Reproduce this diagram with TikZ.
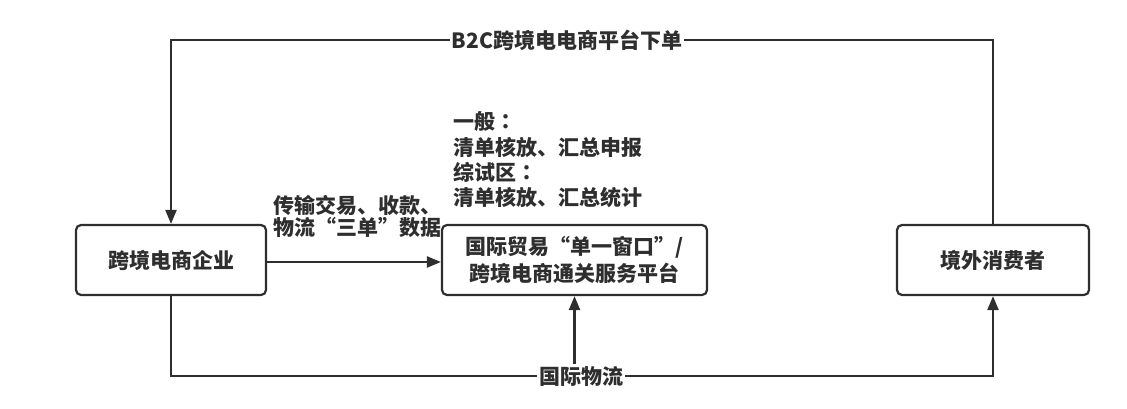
\documentclass[tikz,border=0pt]{standalone}
\usepackage{fontspec}
\newfontfamily\cjk{Noto Sans CJK SC}
\newfontfamily\cjktc{Noto Sans CJK TC}
\usetikzlibrary{arrows.meta}
\definecolor{ink}{HTML}{2E2E2E}
\newcommand{\fwcolon}{{\cjktc\bfseries ：}}
\begin{document}
\begin{tikzpicture}[x=1pt,y=-1pt,
  font=\cjk\bfseries\fontsize{21}{27}\selectfont,
  box/.style={draw=ink, line width=2.2pt, rounded corners=5pt, minimum height=70pt, text=ink, align=center, inner sep=0pt},
  lbl/.style={fill=white, text=ink, inner sep=2pt},
  note/.style={text=ink, align=left, inner sep=0pt, anchor=west},
  conn/.style={draw=ink, line width=2.2pt},
  arr/.style={conn, -{Triangle[length=14pt,width=11pt]}}]
\useasboundingbox (0,0) rectangle (1127,409);
\node[box, minimum width=190pt] (ent) at (171,260) {跨境电商企业};
\node[box, minimum width=265pt] (plat) at (574.5,260) {国际贸易“单一窗口”/\\跨境电商通关服务平台};
\node[box, minimum width=192pt] (cons) at (993,260) {境外消费者};
% top connector
\coordinate (top) at (567,40);
\draw[arr] (cons.north) |- (top) -| (ent.north);
\node[lbl] (b2c) at (top) {B2C跨境电电商平台下单};
% bottom connector
\coordinate (bot) at (581,376);
\draw[arr] (ent.south) |- (bot) -| (cons.south);
\node[lbl] (log) at (bot) {国际物流};
\draw[arr] (log.north -| plat.south) -- (plat.south);
% data arrow
\draw[arr] ([yshift=-2pt]ent.east) -- ([yshift=-2pt]plat.west);
\node[note, font=\cjk\bfseries\fontsize{21}{22}\selectfont] (data) at (273,216.5) {传输交易、收款、\\物流“三单”数据};
\node[note, font=\cjk\bfseries\fontsize{21}{25.3}\selectfont] (rules) at (453,160) {一般\fwcolon\\清单核放、汇总申报\\综试区\fwcolon\\清单核放、汇总统计};
\end{tikzpicture}
\end{document}
